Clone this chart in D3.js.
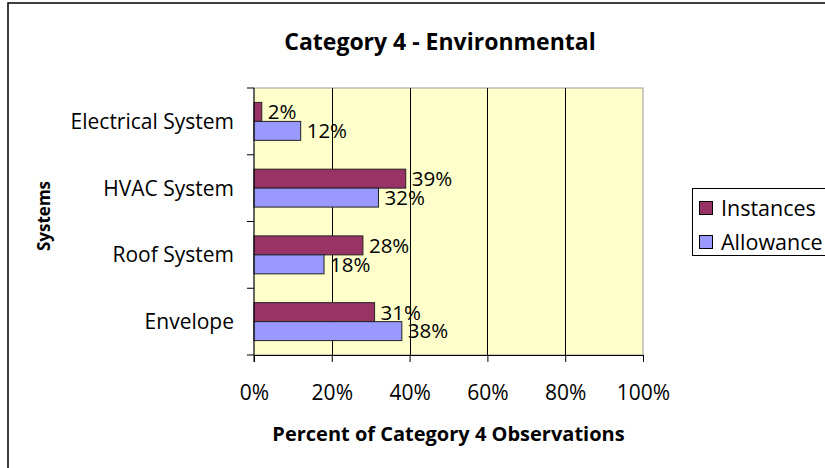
<!DOCTYPE html>
<html>
<head>
<meta charset="utf-8">
<script src="https://cdn.jsdelivr.net/npm/d3@7"></script>
<style>
  html, body { margin: 0; padding: 0; background: #fff; }
  svg { display: block; }
  text { font-family: "Open Sans", Lato, sans-serif; fill: #000; }
</style>
</head>
<body>
<svg id="chart" width="825" height="468"></svg>
<script>
const categories = ["Electrical System", "HVAC System", "Roof System", "Envelope"];
const seriesNames = ["Instances", "Allowance"];
const instances = [2, 39, 28, 31];
const allowance = [12, 32, 18, 38];
const xTicks = [0, 20, 40, 60, 80, 100];
const colors = ["#993366", "#9999FF"];

const svg = d3.select("#chart");

// outer chart border
svg.append("rect").attr("x", 8).attr("y", 3).attr("width", 830).attr("height", 480)
  .attr("fill", "#fff").attr("stroke", "#000").attr("stroke-width", 1.5);

const plot = { left: 254, right: 643, top: 88, bottom: 355 };

const x = d3.scaleLinear().domain([0, 100]).range([plot.left, plot.right]);
const y = d3.scaleBand().domain(categories).range([plot.top, plot.bottom]).paddingInner(0).paddingOuter(0);
const inner = d3.scaleBand().domain(seriesNames).range([0, y.bandwidth()]).paddingInner(0).paddingOuter(0.76);

// plot background
svg.append("rect").attr("x", plot.left).attr("y", plot.top)
  .attr("width", plot.right - plot.left).attr("height", plot.bottom - plot.top)
  .attr("fill", "#FFFFCC").attr("stroke", "#999").attr("stroke-width", 1);

// gridlines
svg.append("g").selectAll("line").data(xTicks.slice(1, -1)).join("line")
  .attr("x1", d => Math.round(x(d)) + 0.5).attr("x2", d => Math.round(x(d)) + 0.5)
  .attr("y1", plot.top).attr("y2", plot.bottom)
  .attr("stroke", "#000").attr("stroke-width", 1);

// bars
const series = [instances, allowance];
series.forEach((vals, si) => {
  const g = svg.append("g");
  g.selectAll("rect").data(categories).join("rect")
    .attr("x", plot.left)
    .attr("y", (c) => y(c) + inner(seriesNames[si]))
    .attr("width", (c, i) => x(vals[i]) - plot.left)
    .attr("height", inner.bandwidth())
    .attr("fill", colors[si]).attr("stroke", "#222").attr("stroke-width", 1);
  g.selectAll("text").data(categories).join("text")
    .attr("x", (c, i) => x(vals[i]) + 6)
    .attr("y", (c) => y(c) + inner(seriesNames[si]) + inner.bandwidth() / 2)
    .attr("dy", "0.36em")
    .attr("font-size", 20.5)
    .text((c, i) => vals[i] + "%");
});

// x axis
const xAxis = d3.axisBottom(x).tickValues(xTicks).tickFormat(d => d + "%").tickSize(7).tickPadding(22);
const gx = svg.append("g").attr("transform", `translate(0,${plot.bottom})`).call(xAxis);
gx.select(".domain").attr("stroke", "#000");
gx.selectAll(".tick line").attr("stroke", "#000");
gx.selectAll("text").attr("font-size", 21).attr("fill", "#000").attr("y", 45).attr("dy", 0);

// y axis
const yTickPos = categories.map(c => y(c)).concat([plot.bottom]);
const gy = svg.append("g");
gy.append("line").attr("x1", plot.left).attr("x2", plot.left).attr("y1", plot.top).attr("y2", plot.bottom + 7).attr("stroke", "#000");
gy.selectAll("line.tk").data(yTickPos).join("line").attr("class", "tk")
  .attr("x1", plot.left - 7).attr("x2", plot.left).attr("y1", d => d).attr("y2", d => d).attr("stroke", "#000");
gy.selectAll("text").data(categories).join("text")
  .attr("x", 234).attr("y", c => y(c) + y.bandwidth() / 2).attr("dy", "0.36em")
  .attr("text-anchor", "end").attr("font-size", 21).text(c => c);

// titles
svg.append("text").attr("x", 440).attr("y", 50).attr("text-anchor", "middle")
  .attr("font-size", 23).attr("font-weight", "bold").text("Category 4 - Environmental");
svg.append("text").attr("x", (plot.left + plot.right) / 2).attr("y", 441).attr("text-anchor", "middle")
  .attr("font-size", 20).attr("font-weight", "bold").text("Percent of Category 4 Observations");
svg.append("text").attr("transform", `translate(50,216) rotate(-90)`)
  .attr("text-anchor", "middle").attr("font-size", 17).attr("font-weight", "bold").text("Systems");

// legend
const lg = svg.append("g");
lg.append("rect").attr("x", 692.5).attr("y", 188.5).attr("width", 150).attr("height", 67)
  .attr("fill", "#fff").attr("stroke", "#000").attr("stroke-width", 1);
seriesNames.forEach((s, i) => {
  const cy = 208 + i * 34;
  lg.append("rect").attr("x", 699.5).attr("y", cy - 6.5).attr("width", 13).attr("height", 13)
    .attr("fill", colors[i]).attr("stroke", "#000").attr("stroke-width", 1);
  lg.append("text").attr("x", 721).attr("y", cy).attr("dy", "0.36em").attr("font-size", 21.5).text(s);
});
</script>
</body>
</html>
